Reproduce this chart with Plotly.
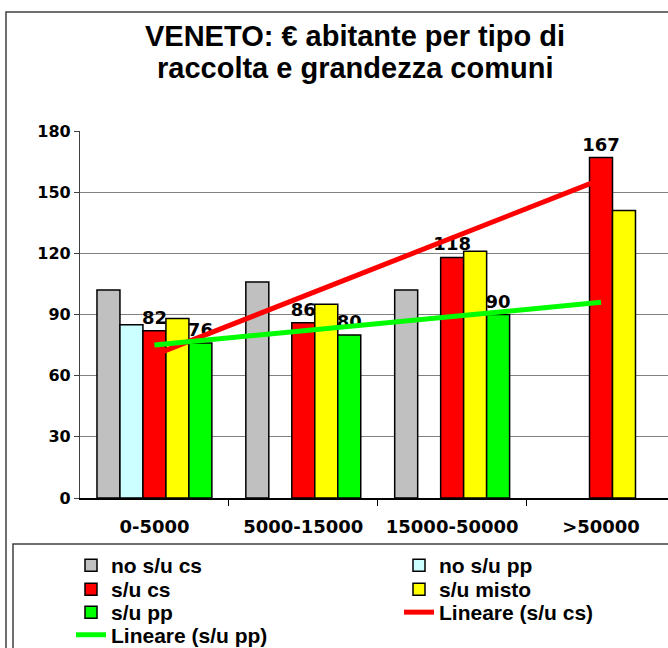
import numpy as np
import plotly.graph_objects as go

# values
categories = ['0-5000', '5000-15000', '15000-50000', '>50000']
no_su_cs = [102, 106, 102, None]
no_su_pp = [85, None, None, None]
su_cs = [82, 86, 118, 167]
su_misto = [88, 95, 121, 141]
su_pp = [76, 80, 90, None]

W, H = 668, 648
L, R, T, B = 80, 0, 131, 150
pw, ph = W - L - R, H - T - B


def px_x(px):
    return (px - L) / pw


def px_y(py):
    return (H - B - py) / ph


def trend(vals):
    # linear trendline ("Lineare") over the categories that have a value
    xs = [i for i, v in enumerate(vals) if v is not None]
    ys = [v for v in vals if v is not None]
    k, q = np.polyfit(xs, ys, 1)
    return [k * i + q for i in range(len(vals))]


xpos = list(range(len(categories)))
lab_font = dict(family='DejaVu Sans', size=18, color='black', weight='bold')
leg_font = dict(family='Liberation Sans', size=21, color='black', weight='bold')
title_font = dict(family='Liberation Sans', size=29, color='black', weight='bold')


def bar(name, vals, color, legend, labels=False):
    return go.Bar(
        name=name, x=xpos, y=vals, legend=legend,
        marker=dict(color=color, line=dict(color='black', width=1.5)),
        text=[v if v is not None else '' for v in vals] if labels else None,
        textposition='outside' if labels else None,
        textfont=lab_font, constraintext='none', cliponaxis=False)


data = [
    bar('no s/u cs', no_su_cs, '#C0C0C0', 'legend'),
    bar('no s/u pp', no_su_pp, '#CCFFFF', 'legend'),
    bar('s/u cs', su_cs, '#FF0000', 'legend2', labels=True),
    bar('s/u misto', su_misto, '#FFFF00', 'legend2'),
    bar('s/u pp', su_pp, '#00FF00', 'legend3', labels=True),
    go.Scatter(name='Lineare (s/u cs)', x=xpos, y=trend(su_cs), mode='lines',
               legend='legend3', line=dict(color='#FF0000', width=5)),
    go.Scatter(name='Lineare (s/u pp)', x=xpos, y=trend(su_pp), mode='lines',
               legend='legend4', line=dict(color='#00FF00', width=5)),
]

fig = go.Figure(data=data)

# one legend per row, two columns each
row_y = [565.5, 589.5, 612.5, 635]
legends = {}
for i, ry in enumerate(row_y):
    key = 'legend' if i == 0 else 'legend%d' % (i + 1)
    legends[key] = dict(orientation='h', x=px_x(71), xanchor='left', y=px_y(ry),
                        yanchor='middle', entrywidth=283, entrywidthmode='pixels',
                        font=leg_font, bgcolor='rgba(0,0,0,0)', traceorder='normal')

fig.update_layout(
    width=W, height=H,
    margin=dict(l=L, r=R, t=T, b=B, autoexpand=False),
    paper_bgcolor='white', plot_bgcolor='white',
    barmode='group', bargap=0.228, bargroupgap=0,
    title=dict(text='VENETO: € abitante per tipo di',
               x=355 / W, xanchor='center', y=1 - 36 / H, yanchor='middle',
               font=title_font),
    annotations=[dict(text='raccolta e grandezza comuni', xref='paper', yref='paper',
                      x=px_x(355), y=px_y(68), xanchor='center', yanchor='middle',
                      showarrow=False, font=title_font)],
    showlegend=True,
    **legends,
    xaxis=dict(range=[-0.5, 3.45], tickvals=xpos, ticktext=categories,
               ticks='', ticklabelstandoff=12, showgrid=False,
               showline=True, linecolor='black', linewidth=1.5,
               minor=dict(tickvals=[0.5, 1.5, 2.5], ticks='outside', ticklen=6,
                          tickcolor='black', showgrid=False),
               tickfont=dict(family='DejaVu Sans', size=18, color='black', weight='bold'),
               zeroline=False, fixedrange=True),
    yaxis=dict(range=[0, 180], dtick=30, ticks='outside', ticklen=5, tickcolor='#404040',
               showgrid=True, gridcolor='#808080', gridwidth=1.2,
               showline=True, linecolor='#404040', linewidth=1.2, zeroline=False,
               tickfont=dict(family='DejaVu Sans', size=16, color='black', weight='bold')),
    shapes=[
        # outer chart frame
        dict(type='rect', xref='paper', yref='paper', x0=px_x(6), x1=1.3,
             y0=-0.6, y1=px_y(12), line=dict(color='#404040', width=1.5), layer='below'),
        # legend frame
        dict(type='rect', xref='paper', yref='paper', x0=px_x(13), x1=1.3,
             y0=-0.6, y1=px_y(544), line=dict(color='#404040', width=1.5), layer='below'),
    ],
)

# drop the page's default body margin so the figure sits at the window origin
fig.write_html("out.html", config={'displayModeBar': False},
               post_script="document.body.style.margin='0';")
